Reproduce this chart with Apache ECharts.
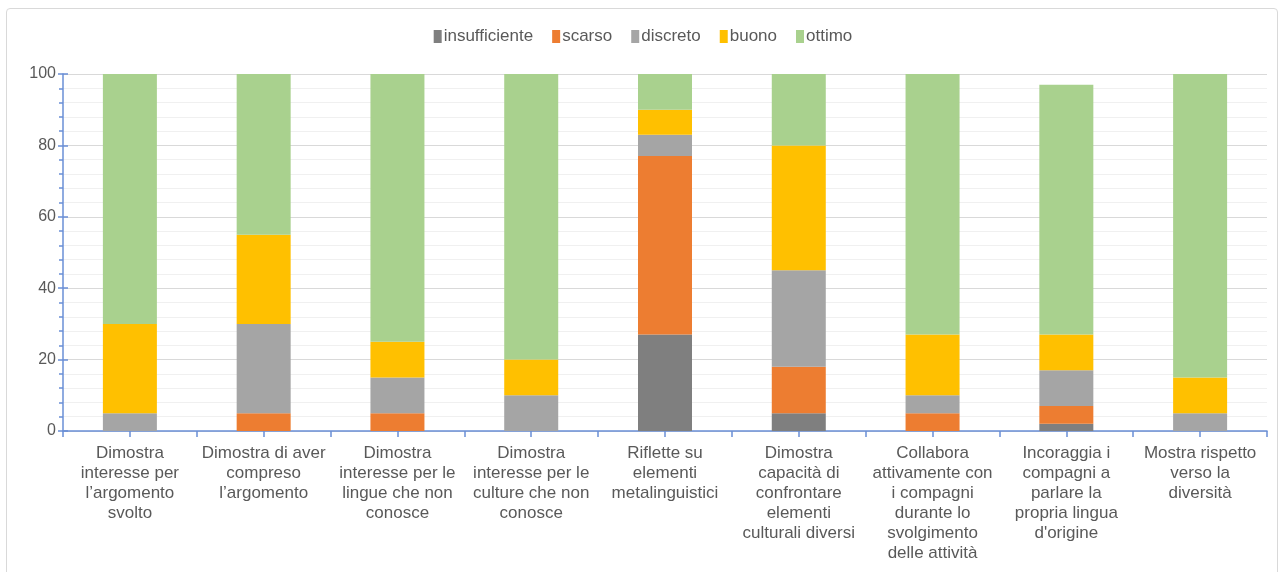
<!DOCTYPE html>
<html>
<head>
<meta charset="utf-8">
<script src="https://cdn.jsdelivr.net/npm/echarts@6/dist/echarts.min.js"></script>
<style>
  html, body { margin: 0; padding: 0; background: #fff; }
  .frame {
    position: absolute; left: 6px; top: 8px; width: 1272px; height: 580px;
    border: 1px solid #d9d9d9; border-radius: 4px; box-sizing: border-box;
  }
  #chart { position: absolute; left: 0; top: 0; width: 1286px; height: 572px; }
</style>
</head>
<body>
<div class="frame"></div>
<div id="chart"></div>
<script>
const categories = [
  'Dimostra\ninteresse per\nl\u2019argomento\nsvolto',
  'Dimostra di aver\ncompreso\nl\u2019argomento',
  'Dimostra\ninteresse per le\nlingue che non\nconosce',
  'Dimostra\ninteresse per le\nculture che non\nconosce',
  'Riflette su\nelementi\nmetalinguistici',
  'Dimostra\ncapacit\u00e0 di\nconfrontare\nelementi\nculturali diversi',
  'Collabora\nattivamente con\ni compagni\ndurante lo\nsvolgimento\ndelle attivit\u00e0',
  'Incoraggia i\ncompagni a\nparlare la\npropria lingua\nd\'origine',
  'Mostra rispetto\nverso la\ndiversit\u00e0'
]

const insufficiente = [0, 0, 0, 0, 27, 5, 0, 2, 0]
const scarso = [0, 5, 5, 0, 50, 13, 5, 5, 0]
const discreto = [5, 25, 10, 10, 6, 27, 5, 10, 5]
const buono = [25, 25, 10, 10, 7, 35, 17, 10, 10]
const ottimo = [70, 45, 75, 80, 10, 20, 73, 70, 85]

const axisBlue = '#6a8fd6'
const textGray = '#595959'
const font = "'Liberation Sans', Arial, sans-serif"

function bar(name, data, color) {
  return {
    name,
    type: 'bar',
    stack: 'total',
    xAxisIndex: 0,
    yAxisIndex: 0,
    barWidth: 54,
    itemStyle: { color },
    data
  }
}

const chart = echarts.init(document.getElementById('chart'))
chart.setOption({
  animation: false,
  textStyle: { fontFamily: font },
  legend: {
    top: 23,
    left: 'center',
    icon: 'rect',
    itemWidth: 8,
    itemHeight: 13,
    itemGap: 19,
    textStyle: { color: textGray, fontSize: 17, fontFamily: font, padding: [0, 0, 0, -3] }
  },
  tooltip: { trigger: 'axis', axisPointer: { type: 'shadow' } },
  grid: { left: 63, right: 19, top: 74, bottom: 141 },
  xAxis: [
    {
      type: 'category',
      data: categories,
      axisLine: { lineStyle: { color: axisBlue, width: 1.5 } },
      axisTick: { show: false },
      axisLabel: {
        color: textGray,
        fontSize: 17,
        lineHeight: 20,
        margin: 12,
        interval: 0,
        fontFamily: font
      }
    },
    {
      // tick marks at category centres and boundaries
      type: 'value',
      position: 'bottom',
      min: 0,
      max: 18,
      interval: 1,
      axisLine: { show: false },
      axisTick: { show: true, length: 6, lineStyle: { color: axisBlue, width: 1.5 } },
      axisLabel: { show: false },
      splitLine: { show: false }
    }
  ],
  yAxis: [
    {
      type: 'value',
      min: 0,
      max: 100,
      interval: 20,
      axisLine: { show: true, lineStyle: { color: axisBlue, width: 1.5 } },
      axisTick: { show: true, length: 5, lineStyle: { color: axisBlue, width: 1.5 } },
      minorTick: { show: true, splitNumber: 5, length: 4, lineStyle: { color: axisBlue, width: 1.5 } },
      axisLabel: { color: textGray, fontSize: 16, margin: 7, fontFamily: font },
      splitLine: { lineStyle: { color: '#d9d9d9' } },
      minorSplitLine: { show: true, lineStyle: { color: '#f0f0f0' } }
    },
    {
      // inner half of the crossing major ticks
      type: 'value',
      position: 'left',
      min: 0,
      max: 100,
      interval: 20,
      axisLine: { show: false },
      axisTick: { show: true, inside: true, length: 5, lineStyle: { color: axisBlue, width: 1.5 } },
      axisLabel: { show: false },
      splitLine: { show: false }
    }
  ],
  series: [
    bar('insufficiente', insufficiente, '#7f7f7f'),
    bar('scarso', scarso, '#ed7d31'),
    bar('discreto', discreto, '#a5a5a5'),
    bar('buono', buono, '#ffc000'),
    bar('ottimo', ottimo, '#a9d18e')
  ]
})

window.addEventListener('resize', () => chart.resize())
</script>
</body>
</html>
